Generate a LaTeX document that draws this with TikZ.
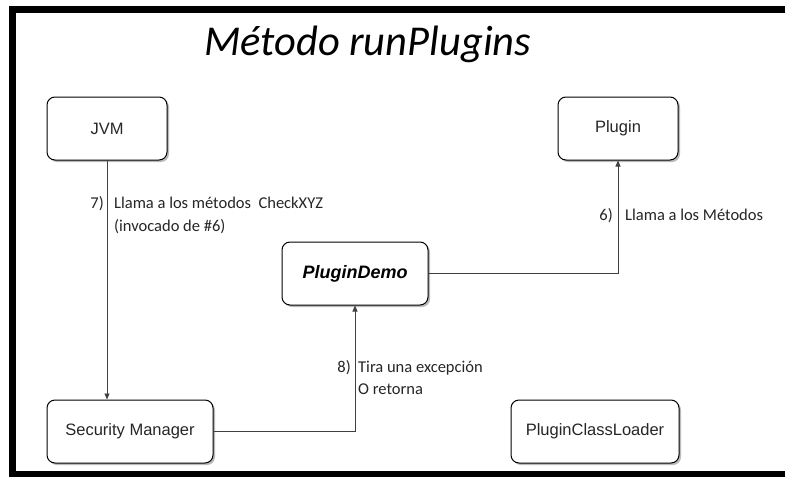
\documentclass[tikz,border=0pt]{standalone}
\usepackage{fontspec}
\setmainfont{Liberation Sans}
\newfontfamily\labelfont{Carlito}
\usetikzlibrary{shadows,arrows.meta}
\tikzset{
  box/.style={draw=black, line width=1pt, rounded corners=8pt, fill=white,
    inner sep=0pt, minimum height=63pt, text=black!85,
    font=\fontsize{16.5}{20}\selectfont,
    drop shadow={shadow xshift=2pt, shadow yshift=-2pt, fill=black!45, opacity=0.6}},
  conn/.style={draw=black!75, line width=0.9pt, -{Triangle[length=6pt,width=5pt]}},
  lbl/.style={inner sep=0pt, text=black!85, font=\labelfont\fontsize{16.5}{22}\selectfont},
}
\begin{document}
\begin{tikzpicture}[x=1pt,y=-1pt]
\useasboundingbox (0,0) rectangle (785,477);
\fill[white] (0,0) rectangle (785,477);
% frame
\fill[black] (9,6) rectangle (785,13);
\fill[black] (9,6) rectangle (16,477);
\fill[black] (9,471) rectangle (785,477);
% title
\node[anchor=base west, inner sep=0pt, text=black,
  font=\labelfont\itshape\fontsize{42.5}{50}\selectfont] (title) at (204,55) {Método runPlugins};
% nodes
\node[box, minimum width=120pt] (jvm) at (107,128.5) {JVM};
\node[box, minimum width=120pt] (plugin) at (618,128.5) {Plugin};
\node[box, minimum width=146pt, font=\bfseries\itshape\fontsize{18}{22}\selectfont, text=black] (demo) at (355,273.5) {PluginDemo};
\node[box, minimum width=166pt] (sm) at (130,431.5) {Security Manager};
\node[box, minimum width=168pt] (pcl) at (595,431.5) {PluginClassLoader};
% connectors
\draw[conn] (jvm.south) -- (jvm.south |- sm.north);
\draw[conn] (demo.east) -| (plugin.south);
\draw[conn] (sm.east) -| (demo.south);
% labels
\node[lbl, anchor=base east] (l7n) at (104,208) {7)};
\node[lbl, anchor=base west, align=left, font=\labelfont\fontsize{16.5}{23}\selectfont] (l7) at (114,231) {Llama a los métodos\ \ CheckXYZ\\(invocado de \#6)};
\node[lbl, anchor=base east] (l6n) at (613,220) {6)};
\node[lbl, anchor=base west] (l6) at (625,220) {Llama a los Métodos};
\node[lbl, anchor=base east] (l8n) at (351,372) {8)};
\node[lbl, anchor=base west, align=left] (l8) at (358,394) {Tira una excepción\\O retorna};
\end{tikzpicture}
\end{document}
